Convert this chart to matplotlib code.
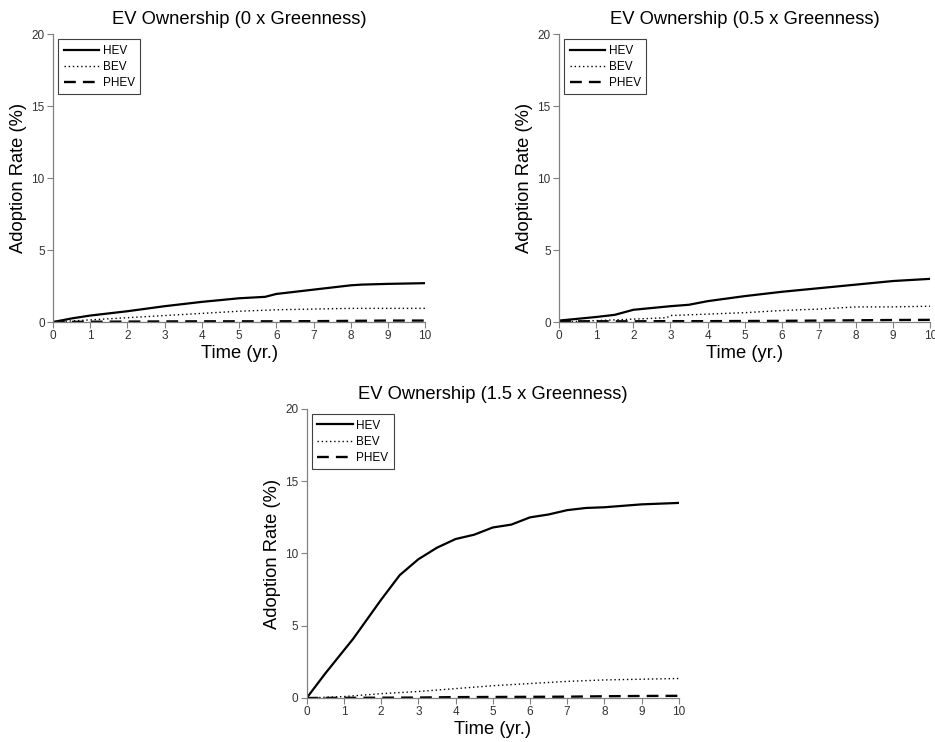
import numpy as np
import matplotlib
matplotlib.use("Agg")
import matplotlib.pyplot as plt

plt.rcParams['font.family'] = ['Liberation Sans', 'DejaVu Sans']

# Greenness 0x
t0 = [0, 0.5, 1, 2, 3, 4, 5, 5.7, 6, 7, 8, 8.3, 9, 10]
hev0 = [0, 0.25, 0.45, 0.75, 1.1, 1.4, 1.65, 1.75, 1.95, 2.25, 2.55, 2.6, 2.65, 2.7]
tb0 = [0, 1, 2, 3, 4, 5, 6, 7, 8, 9, 10]
bev0 = [0, 0.15, 0.3, 0.45, 0.6, 0.75, 0.85, 0.9, 0.95, 0.95, 0.95]
phev0 = [0, 0.02, 0.03, 0.04, 0.05, 0.05, 0.05, 0.06, 0.08, 0.1, 0.1]

# Greenness 0.5x
t5 = [0, 1, 1.5, 2, 3, 3.5, 4, 5, 6, 7, 8, 9, 10]
hev5 = [0.1, 0.35, 0.5, 0.85, 1.1, 1.2, 1.45, 1.8, 2.1, 2.35, 2.6, 2.85, 3.0]
tb5 = [0, 1, 2, 2.9, 3, 4, 5, 6, 7, 8, 9, 10]
bev5 = [0, 0.1, 0.2, 0.3, 0.45, 0.55, 0.65, 0.8, 0.9, 1.05, 1.05, 1.1]
phev5 = [0.05, 0.05, 0.05, 0.06, 0.06, 0.06, 0.07, 0.08, 0.1, 0.12, 0.14, 0.15]

# Greenness 1.5x
t15 = [0, 0.5, 1, 1.25, 1.5, 2, 2.5, 3, 3.5, 4, 4.5, 5, 5.5, 6, 6.5, 7, 7.5, 8, 9, 10]
hev15 = [0, 1.7, 3.3, 4.1, 5.0, 6.8, 8.5, 9.6, 10.4, 11.0, 11.3, 11.8, 12.0, 12.5,
         12.7, 13.0, 13.15, 13.2, 13.4, 13.5]
tb15 = [0, 1, 2, 3, 4, 5, 6, 7, 8, 9, 10]
bev15 = [0, 0.1, 0.3, 0.45, 0.65, 0.85, 1.0, 1.15, 1.25, 1.3, 1.35]
phev15 = [0, 0.01, 0.02, 0.03, 0.06, 0.07, 0.08, 0.09, 0.12, 0.14, 0.15]

panels = [
    ("EV Ownership (0 x Greenness)", t0, hev0, tb0, bev0, phev0),
    ("EV Ownership (0.5 x Greenness)", t5, hev5, tb5, bev5, phev5),
    ("EV Ownership (1.5 x Greenness)", t15, hev15, tb15, bev15, phev15),
]

rects = [
    [0.0567, 0.566, 0.398, 0.388],
    [0.598, 0.566, 0.397, 0.388],
    [0.328, 0.0593, 0.398, 0.3895],
]

fig = plt.figure(figsize=(9.35, 7.42), dpi=100)

for rect, (title, th, hev, tb, bev, phev) in zip(rects, panels):
    ax = fig.add_axes(rect)
    ax.plot(th, hev, color='black', lw=1.6, label='HEV')
    ax.plot(tb, bev, color='black', lw=1.0, linestyle=(0, (1, 2)), label='BEV')
    ax.plot(tb, phev, color='black', lw=1.7, linestyle=(0, (5, 3)), label='PHEV')
    ax.set_xlim(0, 10)
    ax.set_ylim(0, 20)
    ax.set_xticks(range(0, 11))
    ax.set_yticks([0, 5, 10, 15, 20])
    ax.spines['top'].set_visible(False)
    ax.spines['right'].set_visible(False)
    for s in ('left', 'bottom'):
        ax.spines[s].set_color('#808080')
        ax.spines[s].set_linewidth(0.9)
    ax.tick_params(direction='out', length=4, width=0.8, color='#808080',
                   labelsize=8.5, labelcolor='#333333', pad=2)
    ax.set_title(title, fontsize=13.2, pad=7)
    ax.set_xlabel("Time (yr.)", fontsize=13.2, labelpad=2)
    ax.set_ylabel("Adoption Rate (%)", fontsize=13.2, labelpad=3)
    leg = ax.legend(loc='upper left', fontsize=8.5, handlelength=3.0,
                    handletextpad=0.3, borderpad=0.45, labelspacing=0.35,
                    fancybox=False, framealpha=1, borderaxespad=0.45)
    leg.get_frame().set_edgecolor('#404040')
    leg.get_frame().set_linewidth(0.8)

fig.savefig("out.png", dpi=100)
